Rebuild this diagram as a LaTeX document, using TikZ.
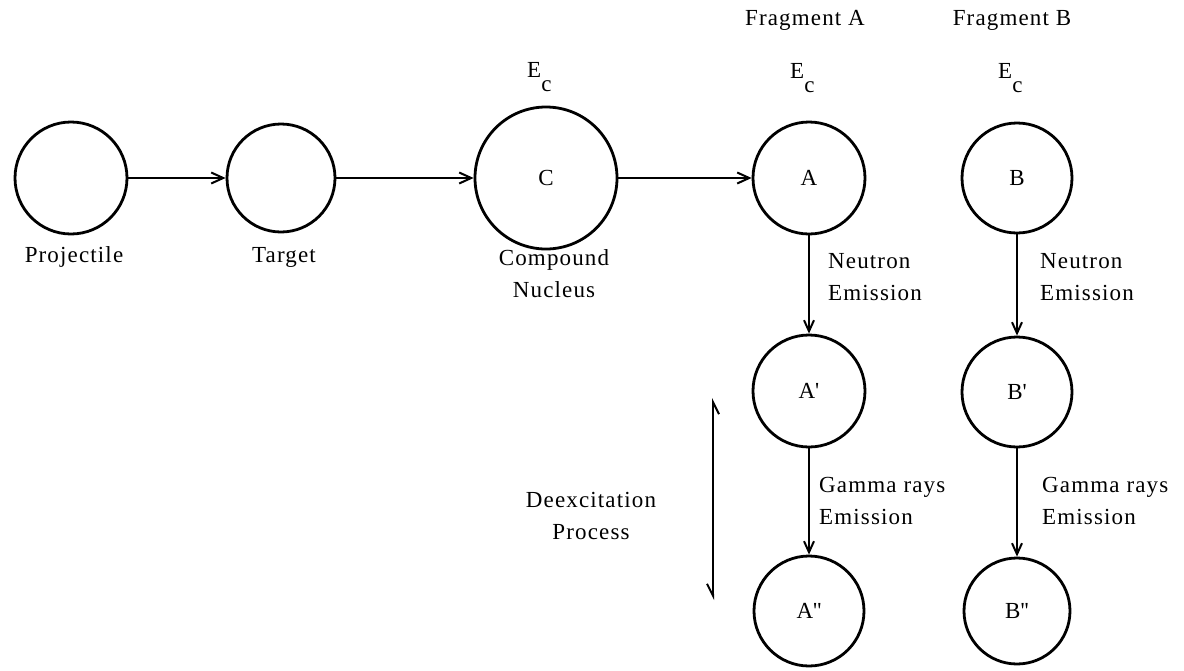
\documentclass[tikz,border=0pt]{standalone}
\usepackage{fontspec}
\setmainfont[LetterSpace=5]{Liberation Serif}
\usetikzlibrary{arrows.meta}
\begin{document}
\begin{tikzpicture}[x=1pt,y=-1pt,
  nuc/.style={circle, draw, line width=2.8pt, inner sep=0pt, font=\fontsize{23}{23}\selectfont},
  lbl/.style={font=\fontsize{23}{32}\selectfont, inner sep=0pt},
  arr/.style={line width=2pt, -{Straight Barb[length=12pt,width=11pt,line width=2pt]}},
  varr/.style={line width=2pt, -{Straight Barb[length=11pt,width=10pt,line width=2pt]}},
  harpboth/.style={line width=2pt, {Straight Barb[harpoon,swap,length=12pt,width=12pt,line width=2pt]}-{Straight Barb[harpoon,swap,length=12pt,width=12pt,line width=2pt]}}]
\useasboundingbox[fill=white] (0,0) rectangle (1184,670);
% nuclei
\node[nuc, minimum size=112pt] (P)  at (71,178)  {};
\node[nuc, minimum size=108pt] (T)  at (281,178) {};
\node[nuc, minimum size=142pt] (C)  at (546,178) {C};
\node[nuc, minimum size=112pt] (A)  at (809,178) {A};
\node[nuc, minimum size=110pt] (B)  at (1017,178) {B};
\node[nuc, minimum size=112pt] (A1) at (809,391) {A\textquotesingle};
\node[nuc, minimum size=110pt] (B1) at (1017,392) {B\textquotesingle};
\node[nuc, minimum size=110pt] (A2) at (809,611) {A\textquotesingle\textquotesingle};
\node[nuc, minimum size=106pt] (B2) at (1017,611) {B\textquotesingle\textquotesingle};
% connectors
\draw[arr] (P) -- (T);
\draw[arr] (T) -- (C);
\draw[arr] (C) -- (A);
\draw[varr] (A) -- (A1);
\draw[varr] (A1) -- (A2);
\draw[varr] (B) -- (B1);
\draw[varr] (B1) -- (B2);
% labels
\node[lbl] (lP) at (74,257) {Projectile};
\node[lbl] (lT) at (284,257) {Target};
\node[lbl, align=center] (lC) at (554,274) {Compound\\Nucleus};
\node[lbl] (fA) at (805,20) {Fragment A};
\node[lbl] (fB) at (1012,20) {Fragment B};
\node[lbl, anchor=north west] (eC) at (527,62) {E\raisebox{-14pt}{c}};
\node[lbl, anchor=north west] (eA) at (790,63) {E\raisebox{-14pt}{c}};
\node[lbl, anchor=north west] (eB) at (998,63) {E\raisebox{-14pt}{c}};
\node[lbl, align=left, anchor=west] (nA) at (828,277) {Neutron\\Emission};
\node[lbl, align=left, anchor=west] (nB) at (1040,277) {Neutron\\Emission};
\node[lbl, align=left, anchor=west] (gA) at (819,501) {Gamma rays\\Emission};
\node[lbl, align=left, anchor=west] (gB) at (1042,501) {Gamma rays\\Emission};
\node[lbl, align=center] (dP) at (591,516) {Deexcitation\\Process};
% deexcitation harpoon arrow
\coordinate (d1) at (713,398);
\coordinate (d2) at (713,600);
\draw[harpboth] (d1) -- (d2);
\end{tikzpicture}
\end{document}
